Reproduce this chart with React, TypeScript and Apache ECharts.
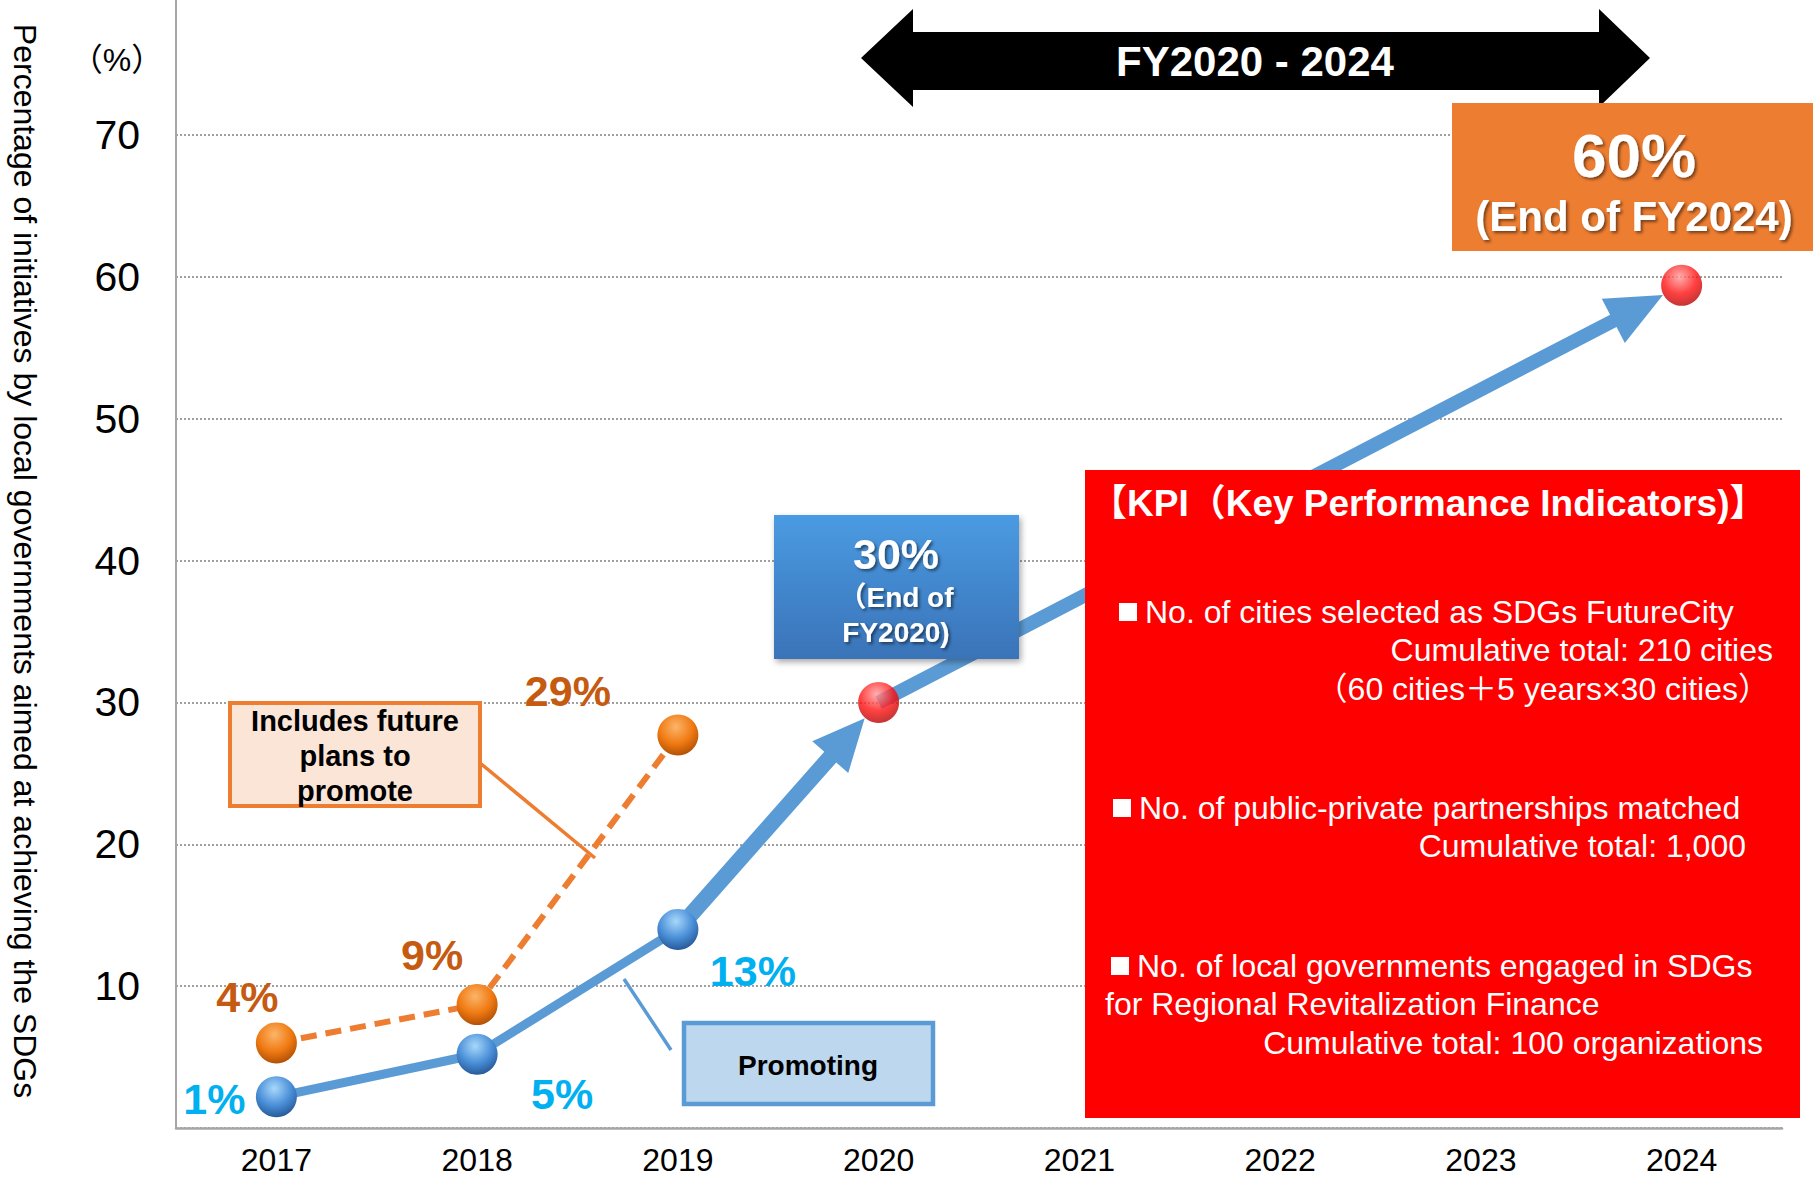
import React, { useEffect, useRef } from 'react';
import * as echarts from 'echarts';

// ---------- data ----------
const years = ['2017', '2018', '2019', '2020', '2021', '2022', '2023', '2024'];
const promotingYears = ['2017', '2018', '2019'];
const promotingValues = [2.2, 5.2, 14.0];
const promotingLabels = ['1%', '5%', '13%'];
const futurePlanYears = ['2017', '2018', '2019'];
const futurePlanValues = [6.0, 8.7, 27.7];
const futurePlanLabels = ['4%', '9%', '29%'];
const targetYears = ['2020', '2024'];
const targetValues = [30, 59.4];
const yMin = 0;
const yMax = 70;
const yInterval = 10;

const yAxisTitle = 'Percentage of initiatives by local governments aimed at achieving the SDGs';
const unitText = '（%）';
const periodText = 'FY2020 - 2024';
const target2024Lines = ['60%', '(End of FY2024)'];
const target2020Lines = ['30%', '（End of', 'FY2020)'];
const futureBoxLines = ['Includes future', 'plans to', 'promote'];
const promotingBoxText = 'Promoting';
const kpiTitle = '【KPI（Key Performance Indicators)】';
const kpiLines = [
  { text: 'No. of cities selected as SDGs FutureCity', align: 'left', bullet: true },
  { text: 'Cumulative total: 210 cities', align: 'right', bullet: false },
  { text: '（60 cities＋5 years×30 cities）', align: 'right', bullet: false },
  { text: 'No. of public-private partnerships matched', align: 'left', bullet: true },
  { text: 'Cumulative total: 1,000', align: 'right', bullet: false },
  { text: 'No. of local governments engaged in SDGs', align: 'left', bullet: true },
  { text: 'for Regional Revitalization Finance', align: 'left', bullet: false },
  { text: 'Cumulative total: 100 organizations', align: 'right', bullet: false },
];

// ---------- layout / style ----------
const FONT = "'Liberation Sans', Arial, 'Noto Sans CJK JP', 'DejaVu Sans', sans-serif";
const BLUE = '#5b9bd5';
const ORANGE = '#ed7d31';
const LABEL_BLUE = '#00b0f0';
const LABEL_ORANGE = '#c55a11';
const MARKER = 41;
const MARKER_R = 21;
const promotingLabelOffsets = [[-62, 2], [85, 40], [75, 42]];
const futureLabelOffsets = [[-29, -46], [-45, -50], [-110, -44]];
const kpiPos = [
  [1145, 612], [1773, 650], [1770, 689], [1139, 808], [1746, 846], [1137, 966], [1105, 1004], [1763, 1043],
];
const arrowShapes = [
  { shaft: 16, headLen: 52, headW: 48 },
  { shaft: 14, headLen: 56, headW: 50 },
];

const sphere = (light: string, mid: string, dark: string) => ({
  type: 'radial', x: 0.45, y: 0.3, r: 0.75,
  colorStops: [
    { offset: 0, color: light },
    { offset: 0.55, color: mid },
    { offset: 1, color: dark },
  ],
});

const whiteShadow = {
  textShadowColor: 'rgba(0,0,0,0.5)', textShadowBlur: 3, textShadowOffsetX: 2, textShadowOffsetY: 2,
};

function buildOption() {
  const idx = (y: string) => years.indexOf(y);
  const arrowSegments = [
    [idx(promotingYears[2]), promotingValues[2], idx(targetYears[0]), targetValues[0]],
    [idx(targetYears[0]), targetValues[0], idx(targetYears[1]), targetValues[1]],
  ];

  const graphic: any[] = [
    // y axis extension above top tick
    { type: 'line', z: 50, shape: { x1: 176, y1: 0, x2: 176, y2: 135 }, style: { stroke: '#a6a6a6', lineWidth: 2 } },
    // y axis title
    {
      type: 'text', z: 50, x: 25, y: 561, rotation: -Math.PI / 2,
      style: { text: yAxisTitle, fill: '#000', fontSize: 32, fontFamily: FONT, align: 'center', verticalAlign: 'middle' },
    },
    {
      type: 'text', z: 50, x: 117, y: 60,
      style: { text: unitText, fill: '#000', fontSize: 32, fontFamily: FONT, align: 'center', verticalAlign: 'middle' },
    },
    // double arrow
    {
      type: 'polygon', z: 50,
      shape: {
        points: [[861, 58], [913, 9], [913, 32], [1599, 32], [1599, 9], [1650, 58], [1599, 107], [1599, 90], [913, 90], [913, 107]],
      },
      style: { fill: '#000' },
    },
    {
      type: 'text', z: 51, x: 1255, y: 61,
      style: { text: periodText, fill: '#fff', fontSize: 42, fontWeight: 'bold', fontFamily: FONT, align: 'center', verticalAlign: 'middle' },
    },
    // 60% box
    {
      type: 'rect', z: 50, shape: { x: 1452, y: 103, width: 361, height: 148 },
      style: { fill: ORANGE },
    },
    {
      type: 'text', z: 51, x: 1634, y: 155,
      style: { text: target2024Lines[0], fill: '#fff', fontSize: 62, fontWeight: 'bold', fontFamily: FONT, align: 'center', verticalAlign: 'middle', ...whiteShadow },
    },
    {
      type: 'text', z: 51, x: 1634, y: 216,
      style: { text: target2024Lines[1], fill: '#fff', fontSize: 42, fontWeight: 'bold', fontFamily: FONT, align: 'center', verticalAlign: 'middle', ...whiteShadow },
    },
    // 30% box
    {
      type: 'rect', z: 50, shape: { x: 774, y: 515, width: 245, height: 144 },
      style: {
        fill: { type: 'linear', x: 0, y: 0, x2: 0, y2: 1, colorStops: [{ offset: 0, color: '#4a9be2' }, { offset: 1, color: '#3a73b8' }] },
        shadowBlur: 6, shadowColor: 'rgba(0,0,0,0.35)', shadowOffsetX: 2, shadowOffsetY: 3,
      },
    },
    {
      type: 'text', z: 51, x: 896, y: 554,
      style: { text: target2020Lines[0], fill: '#fff', fontSize: 43, fontWeight: 'bold', fontFamily: FONT, align: 'center', verticalAlign: 'middle', ...whiteShadow },
    },
    {
      type: 'text', z: 51, x: 896, y: 597,
      style: { text: target2020Lines[1], fill: '#fff', fontSize: 28, fontWeight: 'bold', fontFamily: FONT, align: 'center', verticalAlign: 'middle', ...whiteShadow },
    },
    {
      type: 'text', z: 51, x: 896, y: 632,
      style: { text: target2020Lines[2], fill: '#fff', fontSize: 28, fontWeight: 'bold', fontFamily: FONT, align: 'center', verticalAlign: 'middle', ...whiteShadow },
    },
    // KPI box
    { type: 'rect', z: 50, shape: { x: 1085, y: 470, width: 715, height: 648 }, style: { fill: '#ff0000' } },
    {
      type: 'text', z: 51, x: 1090, y: 503,
      style: { text: kpiTitle, fill: '#fff', fontSize: 37, fontWeight: 'bold', fontFamily: FONT, align: 'left', verticalAlign: 'middle' },
    },
    ...kpiLines.map((l, i) => ({
      type: 'text', z: 51, x: kpiPos[i][0], y: kpiPos[i][1],
      style: { text: l.text, fill: '#fff', fontSize: 32, fontFamily: FONT, align: l.align, verticalAlign: 'middle' },
    })),
    ...kpiLines.map((l, i) => (l.bullet ? {
      type: 'rect', z: 51, shape: { x: kpiPos[i][0] - 26, y: kpiPos[i][1] - 9, width: 18, height: 18 },
      style: { fill: '#fff' },
    } : null)).filter(Boolean),
    // future plans box
    { type: 'line', z: 49, shape: { x1: 480, y1: 763, x2: 595, y2: 858 }, style: { stroke: ORANGE, lineWidth: 3.5 } },
    {
      type: 'rect', z: 50, shape: { x: 230, y: 703, width: 250, height: 103 },
      style: { fill: '#fbe5d6', stroke: ORANGE, lineWidth: 4 },
    },
    ...futureBoxLines.map((t, i) => ({
      type: 'text', z: 51, x: 355, y: 721 + i * 35,
      style: { text: t, fill: '#000', fontSize: 29, fontWeight: 'bold', fontFamily: FONT, align: 'center', verticalAlign: 'middle' },
    })),
    // promoting box
    { type: 'line', z: 49, shape: { x1: 671, y1: 1050, x2: 624, y2: 979 }, style: { stroke: BLUE, lineWidth: 3.5 } },
    {
      type: 'rect', z: 50, shape: { x: 684, y: 1023, width: 249, height: 81 },
      style: { fill: '#bdd7ee', stroke: BLUE, lineWidth: 4.5 },
    },
    {
      type: 'text', z: 51, x: 808, y: 1065,
      style: { text: promotingBoxText, fill: '#000', fontSize: 28, fontWeight: 'bold', fontFamily: FONT, align: 'center', verticalAlign: 'middle' },
    },
  ];

  const labelStyle = (color: string) => ({
    show: true, position: 'inside', color, fontSize: 43, fontWeight: 'bold', fontFamily: FONT,
  });

  return {
    animation: false,
    backgroundColor: '#fff',
    grid: { left: 176, right: 31, top: 135, bottom: 54, containLabel: false, outerBoundsMode: 'none' },
    xAxis: {
      type: 'category', data: years, boundaryGap: true,
      axisLine: { show: true, lineStyle: { color: '#a6a6a6', width: 2.5 } },
      axisTick: { show: false },
      axisLabel: { color: '#000', fontSize: 32, fontFamily: FONT, margin: 16 },
      splitLine: { show: false },
    },
    yAxis: {
      type: 'value', min: yMin, max: yMax, interval: yInterval,
      axisLine: { show: true, lineStyle: { color: '#a6a6a6', width: 2 } },
      axisTick: { show: false },
      axisLabel: {
        color: '#000', fontSize: 41, fontFamily: FONT, margin: 36,
        formatter: (v: number) => (v === 0 ? '' : String(v)),
      },
      splitLine: { show: true, lineStyle: { color: '#a0a0a0', type: [2, 2], width: 2 } },
    },
    series: [
      {
        type: 'custom', name: 'trend', z: 2, silent: true,
        encode: { x: [0, 2], y: [1, 3] },
        data: arrowSegments,
        renderItem: (params: any, api: any) => {
          const a = api.coord([api.value(0), api.value(1)]);
          const b = api.coord([api.value(2), api.value(3)]);
          const s = arrowShapes[params.dataIndex];
          const dx = b[0] - a[0];
          const dy = b[1] - a[1];
          const len = Math.hypot(dx, dy);
          const ux = dx / len, uy = dy / len;
          const nx = -uy, ny = ux;
          const tip = [b[0] - ux * MARKER_R, b[1] - uy * MARKER_R];
          const base = [tip[0] - ux * s.headLen, tip[1] - uy * s.headLen];
          const hw = s.shaft / 2, hh = s.headW / 2;
          const pts = [
            [a[0] + nx * hw, a[1] + ny * hw],
            [base[0] + nx * hw, base[1] + ny * hw],
            [base[0] + nx * hh, base[1] + ny * hh],
            tip,
            [base[0] - nx * hh, base[1] - ny * hh],
            [base[0] - nx * hw, base[1] - ny * hw],
            [a[0] - nx * hw, a[1] - ny * hw],
          ];
          return { type: 'polygon', shape: { points: pts }, style: { fill: BLUE } };
        },
      },
      {
        type: 'line', name: 'Includes future plans to promote', z: 3, silent: true,
        data: futurePlanYears.map((y, i) => ({
          value: [y, futurePlanValues[i]],
          label: { ...labelStyle(LABEL_ORANGE), offset: futureLabelOffsets[i], formatter: () => futurePlanLabels[i] },
        })),
        symbol: 'circle', symbolSize: MARKER,
        itemStyle: { color: sphere('#fbb56a', '#f07a12', '#a84a04') },
        lineStyle: { color: ORANGE, width: 6, type: [16, 9] },
      },
      {
        type: 'line', name: 'Promoting', z: 4, silent: true,
        data: promotingYears.map((y, i) => ({
          value: [y, promotingValues[i]],
          label: { ...labelStyle(LABEL_BLUE), offset: promotingLabelOffsets[i], formatter: () => promotingLabels[i] },
        })),
        symbol: 'circle', symbolSize: MARKER,
        itemStyle: { color: sphere('#a8d8fa', '#4a8fd8', '#22528f') },
        lineStyle: { color: BLUE, width: 9 },
      },
      {
        type: 'scatter', name: 'Target', z: 5, silent: true,
        data: targetYears.map((y, i) => [y, targetValues[i]]),
        symbol: 'circle', symbolSize: MARKER,
        itemStyle: { color: sphere('#ff9c9c', '#ff1010', '#a80000') },
      },
    ],
    graphic,
  };
}

export default function App() {
  const ref = useRef<HTMLDivElement>(null);
  useEffect(() => {
    document.body.style.margin = '0';
    const chart = echarts.init(ref.current as HTMLDivElement, null, { renderer: 'svg' });
    chart.setOption(buildOption() as any);
    return () => chart.dispose();
  }, []);
  return <div ref={ref} style={{ width: 1813, height: 1182 }} />;
}
